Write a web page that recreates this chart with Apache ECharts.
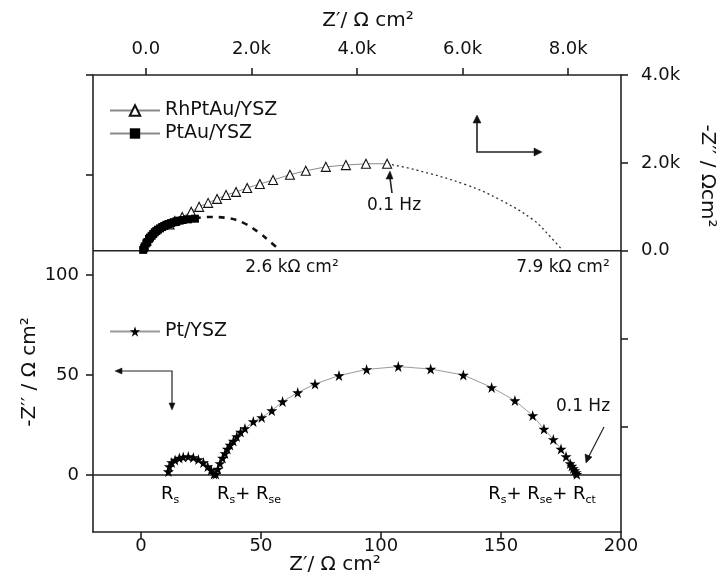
<!DOCTYPE html>
<html>
<head>
<meta charset="utf-8">
<script src="https://cdn.jsdelivr.net/npm/echarts@6/dist/echarts.min.js"></script>
<style>html,body{margin:0;padding:0;background:#fff}#c{width:726px;height:576px}</style>
</head>
<body>
<div id="c"></div>
<script>
// ---- data (upper panel: top Z' axis / right -Z'' axis, in Ω cm²) ----
const rhptauX = [450, 550, 690, 860, 1010, 1180, 1350, 1520, 1710, 1920, 2160, 2410, 2730, 3030, 3410, 3790, 4170, 4570];
const rhptauY = [600, 680, 770, 890, 1000, 1090, 1180, 1270, 1340, 1430, 1520, 1610, 1730, 1820, 1910, 1950, 1980, 1980];
const rhptauFitX = [4570, 5120, 6070, 6710, 7340, 7660, 7900];
const rhptauFitY = [1980, 1840, 1500, 1160, 700, 320, 0];
const ptauX = [-50, -30, -20, 10, 30, 60, 80, 110, 140, 170, 200, 230, 270, 310, 350, 390, 430, 480, 530, 580, 640, 700, 800, 930];
const ptauY = [20, 60, 100, 170, 200, 270, 300, 340, 380, 420, 450, 480, 510, 540, 565, 590, 610, 630, 650, 670, 685, 700, 715, 730];
const ptauFitX = [930, 1140, 1520, 1840, 2160, 2350, 2550];
const ptauFitY = [730, 770, 750, 640, 400, 210, 0];
// ---- data (lower panel: bottom Z' axis / left -Z'' axis, in Ω cm²) ----
const ptX = [11.4, 11.8, 12.8, 14.2, 16.0, 17.6, 19.7, 21.8, 23.9, 26.0, 27.8, 29.2, 30.4,
  31.2, 32, 32.9, 34, 35, 36, 37.1, 38.5, 39.9, 41.5, 43.3, 46.8, 50.3, 54.5, 59, 65.3, 72.5, 82.5, 94,
  107.2, 120.7, 134.3, 146.1, 155.8, 163.2, 167.9, 171.8, 175, 177.1, 178.8, 179.5, 180.1, 180.7, 181.3, 181.6];
const ptY = [1.7, 4.2, 6.2, 7.5, 8.5, 9.0, 9.2, 8.8, 7.8, 6.2, 4.2, 2.5, 0.5,
  0.5, 3, 5.8, 8.5, 10.8, 13, 15, 17, 19.2, 21.5, 23.3, 26.7, 28.8, 32.2, 36.7, 41.2, 45.5, 49.7, 52.8,
  54.2, 53, 50, 43.8, 37.2, 29.7, 23, 17.8, 13, 9.2, 5.8, 4.5, 3.3, 2.2, 1.2, 0.4];
// ---- axes ----
const bottomTicks = [0, 50, 100, 150, 200];
const topTicks = [0, 2000, 4000, 6000, 8000];
const leftTicks = [0, 50, 100, 150, 200];
const leftLabels = [0, 50, 100];
const rightTicks = [-4000, -2000, 0, 2000, 4000];
const rightLabels = [0, 2000, 4000];
const names = ['RhPtAu/YSZ', 'PtAu/YSZ', 'Pt/YSZ'];

const zip = (a, b) => a.map((v, i) => [v, b[i]]);
const kfmt = v => v === 0 ? '0.0' : (v / 1000).toFixed(1) + 'k';
const FONT = 'DejaVu Sans';
const INK = '#111';
const STAR = 'path://M50,0 L61,35 L98,35 L68,57 L79,91 L50,70 L21,91 L32,57 L2,35 L39,35 Z';

const chart = echarts.init(document.getElementById('c'), null, {renderer: 'canvas'});
const axisCommon = {
  axisLine: {onZero: false, lineStyle: {color: '#222', width: 1.6}},
  splitLine: {show: false},
  axisTick: {inside: false, length: 7, lineStyle: {color: '#222', width: 1.6}},
};
const labelStyle = {color: INK, fontFamily: FONT, fontSize: 18};

const option = {
  animation: false,
  backgroundColor: '#fff',
  grid: {left: 93, right: 105, top: 75, bottom: 44, containLabel: false},
  xAxis: [
    Object.assign({}, axisCommon, {
      type: 'value', position: 'bottom', min: -20, max: 200,
      axisTick: Object.assign({}, axisCommon.axisTick, {customValues: bottomTicks}),
      axisLabel: Object.assign({}, labelStyle, {margin: 5, customValues: bottomTicks, formatter: v => String(v)})
    }),
    Object.assign({}, axisCommon, {
      type: 'value', position: 'top', min: -1000, max: 9000,
      axisTick: Object.assign({}, axisCommon.axisTick, {customValues: topTicks}),
      axisLabel: Object.assign({}, labelStyle, {margin: 17, customValues: topTicks, formatter: kfmt})
    })
  ],
  yAxis: [
    Object.assign({}, axisCommon, {
      type: 'value', position: 'left', min: -28.5, max: 200,
      axisTick: Object.assign({}, axisCommon.axisTick, {customValues: leftTicks}),
      axisLabel: Object.assign({}, labelStyle, {margin: 14, customValues: leftLabels, formatter: v => String(v)})
    }),
    Object.assign({}, axisCommon, {
      type: 'value', position: 'right', min: -6400, max: 4000,
      axisTick: Object.assign({}, axisCommon.axisTick, {customValues: rightTicks}),
      axisLabel: Object.assign({}, labelStyle, {margin: 20, customValues: rightLabels, formatter: kfmt})
    })
  ],
  legend: [
    {
      data: [names[0], names[1]], orient: 'vertical', left: 104, top: 96,
      itemWidth: 50, itemHeight: 13, itemGap: 4, selectedMode: false,
      textStyle: {color: INK, fontFamily: FONT, fontSize: 19}
    },
    {
      data: [names[2]], orient: 'vertical', left: 104, top: 317,
      itemWidth: 50, itemHeight: 13, selectedMode: false,
      textStyle: {color: INK, fontFamily: FONT, fontSize: 19}
    }
  ],
  series: [
    {type: 'line', xAxisIndex: 0, yAxisIndex: 0, data: [[-20, 0], [200, 0]], symbol: 'none', silent: true,
      lineStyle: {color: '#222', width: 1.6}, z: 1},
    {type: 'line', xAxisIndex: 1, yAxisIndex: 1, data: [[-1000, 0], [9000, 0]], symbol: 'none', silent: true,
      lineStyle: {color: '#222', width: 1.6}, z: 1},
    {name: 'rhfit', type: 'line', xAxisIndex: 1, yAxisIndex: 1, data: zip(rhptauFitX, rhptauFitY), symbol: 'none', smooth: 0.4,
      lineStyle: {color: '#333', width: 1.3, type: [2, 3]}, z: 2},
    {name: 'ptaufit', type: 'line', xAxisIndex: 1, yAxisIndex: 1, data: zip(ptauFitX, ptauFitY), symbol: 'none', smooth: 0.4,
      lineStyle: {color: '#111', width: 2.6, type: [6, 6]}, z: 2},
    {name: names[0], type: 'line', xAxisIndex: 1, yAxisIndex: 1, data: zip(rhptauX, rhptauY),
      symbol: 'triangle', symbolSize: 9, lineStyle: {color: '#8a8a8a', width: 1},
      itemStyle: {color: '#fff', borderColor: '#111', borderWidth: 1.1}, z: 4},
    {name: names[1], type: 'line', xAxisIndex: 1, yAxisIndex: 1, data: zip(ptauX, ptauY),
      symbol: 'rect', symbolSize: 8, lineStyle: {color: '#8a8a8a', width: 1},
      itemStyle: {color: '#000'}, z: 5},
    {name: names[2], type: 'line', xAxisIndex: 0, yAxisIndex: 0, data: zip(ptX, ptY),
      symbol: STAR, symbolSize: 11, lineStyle: {color: '#9a9a9a', width: 1},
      itemStyle: {color: '#000'}, z: 4}
  ]
};

function txt(x, y, text, size, rot, extra) {
  return Object.assign({
    type: 'text', x: x, y: y, rotation: rot || 0, z: 100,
    style: {text: text, fill: INK, font: size + 'px "' + FONT + '"', align: 'center', verticalAlign: 'middle',
      textAlign: 'center', textVerticalAlign: 'middle'}
  }, extra || {});
}
function rtxt(x, y, parts) {
  const rich = {r: {fontFamily: FONT, fontSize: 18, color: INK}, s: {fontFamily: FONT, fontSize: 11, color: INK, padding: [13, 0, 0, 0]}};
  const t = parts.map(p => p[1] ? '{s|' + p[0] + '}' : '{r|' + p[0] + '}').join('');
  return {type: 'text', x: x, y: y, z: 100, style: {text: t, rich: rich, align: 'center', verticalAlign: 'middle', textAlign: 'center', textVerticalAlign: 'middle'}};
}
function seg(pts, w) {
  return {type: 'polyline', z: 100, shape: {points: pts}, style: {stroke: '#222', lineWidth: w || 1.4, fill: null}};
}
function head(pts) {
  return {type: 'polygon', z: 100, shape: {points: pts}, style: {fill: '#111', stroke: '#111', lineWidth: 0.5}};
}

option.graphic = [
  txt(368, 21, 'Z\u2032/ \u03a9 cm\u00b2', 20),
  txt(335, 565, 'Z\u2032/ \u03a9 cm\u00b2', 20),
  txt(30, 372, '-Z\u2032\u2032 / \u03a9 cm\u00b2', 20, Math.PI / 2),
  txt(707, 176, '-Z\u2032\u2032 / \u03a9cm\u00b2', 20, -Math.PI / 2),
  txt(394, 206, '0.1 Hz', 17),
  txt(292, 268, '2.6 k\u03a9 cm\u00b2', 17),
  txt(563, 268, '7.9 k\u03a9 cm\u00b2', 17),
  txt(583, 407, '0.1 Hz', 17),
  // arrows
  seg([[392, 193], [390, 178]], 1.6), head([[386, 179], [390, 171], [393, 179]]),
  seg([[477, 122], [477, 152], [535, 152]], 1.6),
  head([[473, 123], [477, 115], [481, 123]]), head([[534, 148], [542, 152], [534, 156]]),
  seg([[120, 371], [172, 371], [172, 404]], 1.2),
  head([[122, 368], [115, 371], [122, 374]]), head([[169, 403], [172, 410], [175, 403]]),
  seg([[604, 427], [589, 456]], 1.2), head([[585, 454], [586, 463], [592, 457]]),
  // R labels
  rtxt(170, 494, [['R'], ['s', 1]]),
  rtxt(249, 494, [['R'], ['s', 1], ['+ R'], ['se', 1]]),
  rtxt(542, 494, [['R'], ['s', 1], ['+ R'], ['se', 1], ['+ R'], ['ct', 1]])
];

chart.setOption(option);
</script>
</body>
</html>
